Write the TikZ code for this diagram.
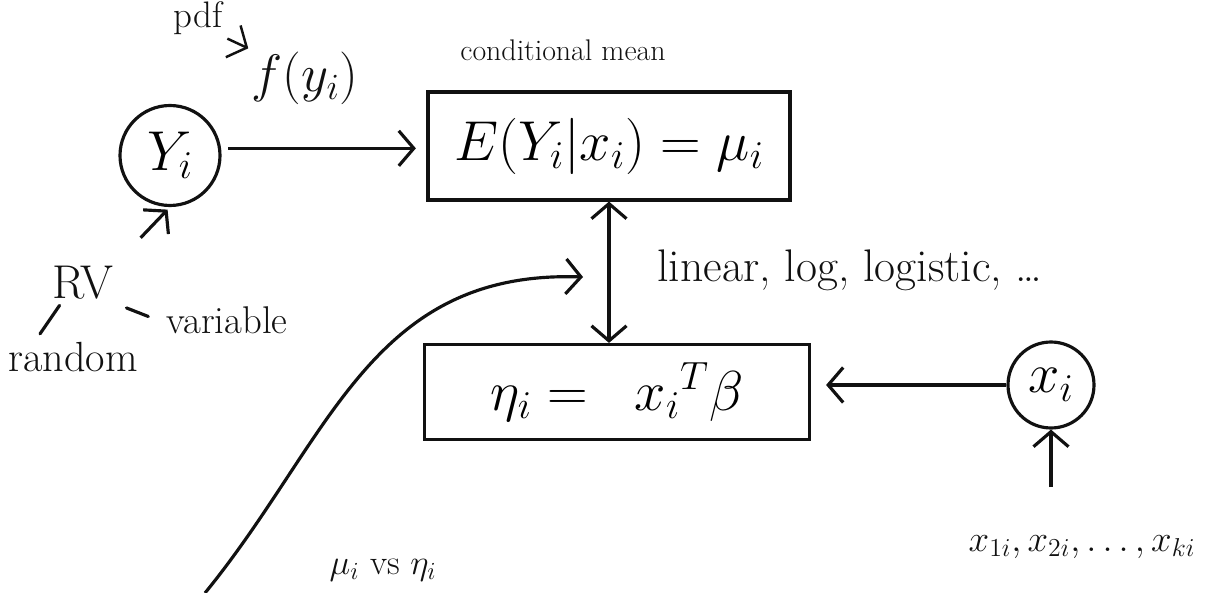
\documentclass[tikz,border=0pt]{standalone}
\usepackage{fix-cm}
\usetikzlibrary{arrows.meta, positioning, calc}
\definecolor{cink}{HTML}{111111}
\tikzset{
  every picture/.style={line width=1.8pt},
  box/.style={draw=cink, rectangle, minimum width=#1, inner sep=4pt, font=\fontsize{32}{38}\selectfont},
  var/.style={draw=cink, circle, inner sep=2pt, font=\fontsize{32}{38}\selectfont},
  arrow/.style={-{Straight Barb[length=3mm, width=7mm]}, draw=cink, line width=1.8pt},
  dbl/.style={{Straight Barb[length=3mm, width=7mm]}-{Straight Barb[length=3mm, width=7mm]}, draw=cink, line width=1.8pt},
  tick/.style={draw=cink, line width=1.8pt, line cap=round},
  note/.style={font=\fontsize{#1}{#1}\selectfont, inner sep=1pt, text=cink},
}
\begin{document}
\begin{tikzpicture}
  \useasboundingbox (0,0) rectangle (24.18,11.86);
  % random component
  \node[var, minimum size=2cm] (yi) at (3.4,8.75) {$Y_i$};
  \node[note=27] (rv) at (1.66,6.2) {RV};
  \node[note=24] (rand) at (1.46,4.72) {random};
  \node[note=22] (vari) at (4.54,5.45) {variable};
  \draw[tick] ([xshift=0.2cm, yshift=-0.05cm]rv.south west) -- ([xshift=0.7cm, yshift=0.1cm]rand.north west);
  \draw[tick] ([xshift=0.2cm, yshift=-0.1cm]rv.south east) -- ([xshift=-0.3cm, yshift=0.08cm]vari.west);
  \draw[arrow, shorten <=0.7cm, shorten >=2pt] (rv.north east) -- (yi.south);
  \node[note=21] (pdf) at (3.96,11.5) {pdf};
  \node[note=30] (fy) at (6.1,10.3) {$f(y_i)$};
  \draw[arrow, line width=1.4pt, shorten <=1pt] (pdf.south east) -- (fy.north west);
  % systematic part and link
  \node[box=7.24cm, minimum height=2.16cm] (cond) at (12.18,8.94) {$E(Y_i|x_i)=\mu_i$};
  \node[note=17] (condlbl) at (11.26,10.86) {conditional mean};
  \draw[arrow, shorten <=4pt, shorten >=6pt] (yi.8) -- (yi.8 -| cond.west);
  \node[box=7.7cm, minimum height=1.9cm] (lin) at (12.34,4.02) {$\eta_i=\;\;x_i{}^T\beta$};
  \draw[dbl] (cond.south) -- (cond.south |- lin.north);
  \node[note=26] (link) at (17.0,6.45) {linear, log, logistic, \dots};
  \node[var, minimum size=1.72cm] (xi) at (21.02,4.16) {$x_i$};
  \draw[arrow, shorten >=0.3cm] (xi.west) -- (xi.west -| lin.east);
  \node[note=21] (cov) at (21.64,0.92) {$x_{1i}, x_{2i}, \dots, x_{ki}$};
  \draw[arrow, shorten <=0.9cm] (xi.south |- cov.north) -- (xi.south);
  % mu vs eta
  \coordinate (cstart) at (4.1,0);
  \coordinate (ctip) at (11.66,6.32);
  \draw[arrow] (cstart) .. controls (6.6,3.06) and (7.4,6.46) .. (ctip);
  \node[note=20] (mueta) at (7.66,0.46) {$\mu_i$ vs $\eta_i$};
\end{tikzpicture}
\end{document}
